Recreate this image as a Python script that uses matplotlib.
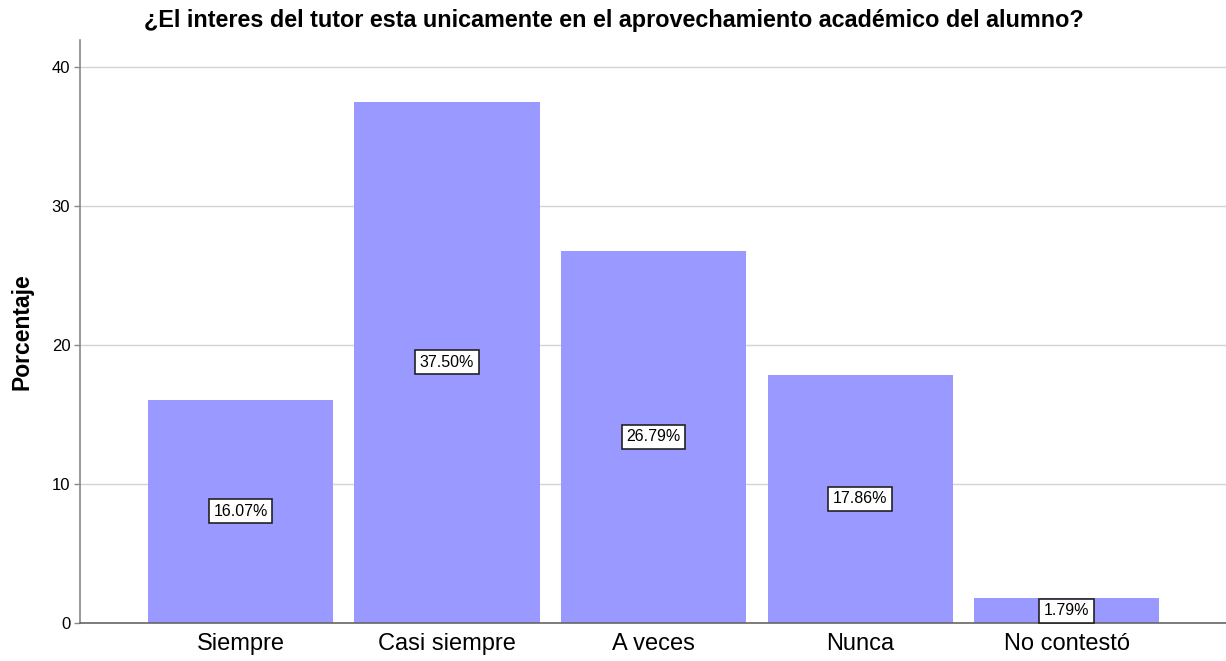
import matplotlib
matplotlib.use("Agg")
import matplotlib.pyplot as plt

categories = ["Siempre", "Casi siempre", "A veces", "Nunca", "No contestó"]
percentages = [16.07, 37.50, 26.79, 17.86, 1.79]
y_ticks = [0, 10, 20, 30, 40]

plt.rcParams["font.family"] = ["Liberation Sans", "DejaVu Sans"]

fig = plt.figure(figsize=(12.26, 6.61), dpi=100)
ax = fig.add_axes([80 / 1226, 1 - 623 / 661, 1 - 80 / 1226, (623 - 40) / 661])

x = range(len(categories))
ax.bar(x, percentages, width=0.896, color="#9999FF", zorder=2)

for xi, v in zip(x, percentages):
    ax.text(xi, v / 2, f"{v:.2f}%", ha="center", va="center", fontsize=11.5,
            zorder=3,
            bbox=dict(boxstyle="square,pad=0.28", facecolor="white",
                      edgecolor="#222222", linewidth=1.2))

ax.set_xlim(-0.777, 4.772)
ax.set_ylim(0, 41.94)
ax.set_yticks(y_ticks)
ax.set_yticklabels([str(t) for t in y_ticks], fontsize=12)
ax.set_xticks(list(x))
ax.set_xticklabels(categories, fontsize=17)
ax.tick_params(axis="x", length=0, pad=7)
ax.tick_params(axis="y", length=4, width=1, color="#888888", pad=3)

ax.yaxis.grid(True, color="#d4d4d4", linewidth=1, zorder=0)
ax.set_axisbelow(True)

for side in ["top", "right"]:
    ax.spines[side].set_visible(False)
ax.spines["left"].set_color("#888888")
ax.spines["bottom"].set_color("#666666")
ax.spines["left"].set_linewidth(1.2)
ax.spines["bottom"].set_linewidth(1.2)

ax.set_ylabel("Porcentaje", fontsize=16.5, fontweight="bold", labelpad=13)
fig.text(0.501, 1 - 20 / 661, "¿El interes del tutor esta unicamente en el aprovechamiento académico del alumno?",
         ha="center", va="center", fontsize=16.8, fontweight="bold")

fig.savefig("out.png", dpi=100)
